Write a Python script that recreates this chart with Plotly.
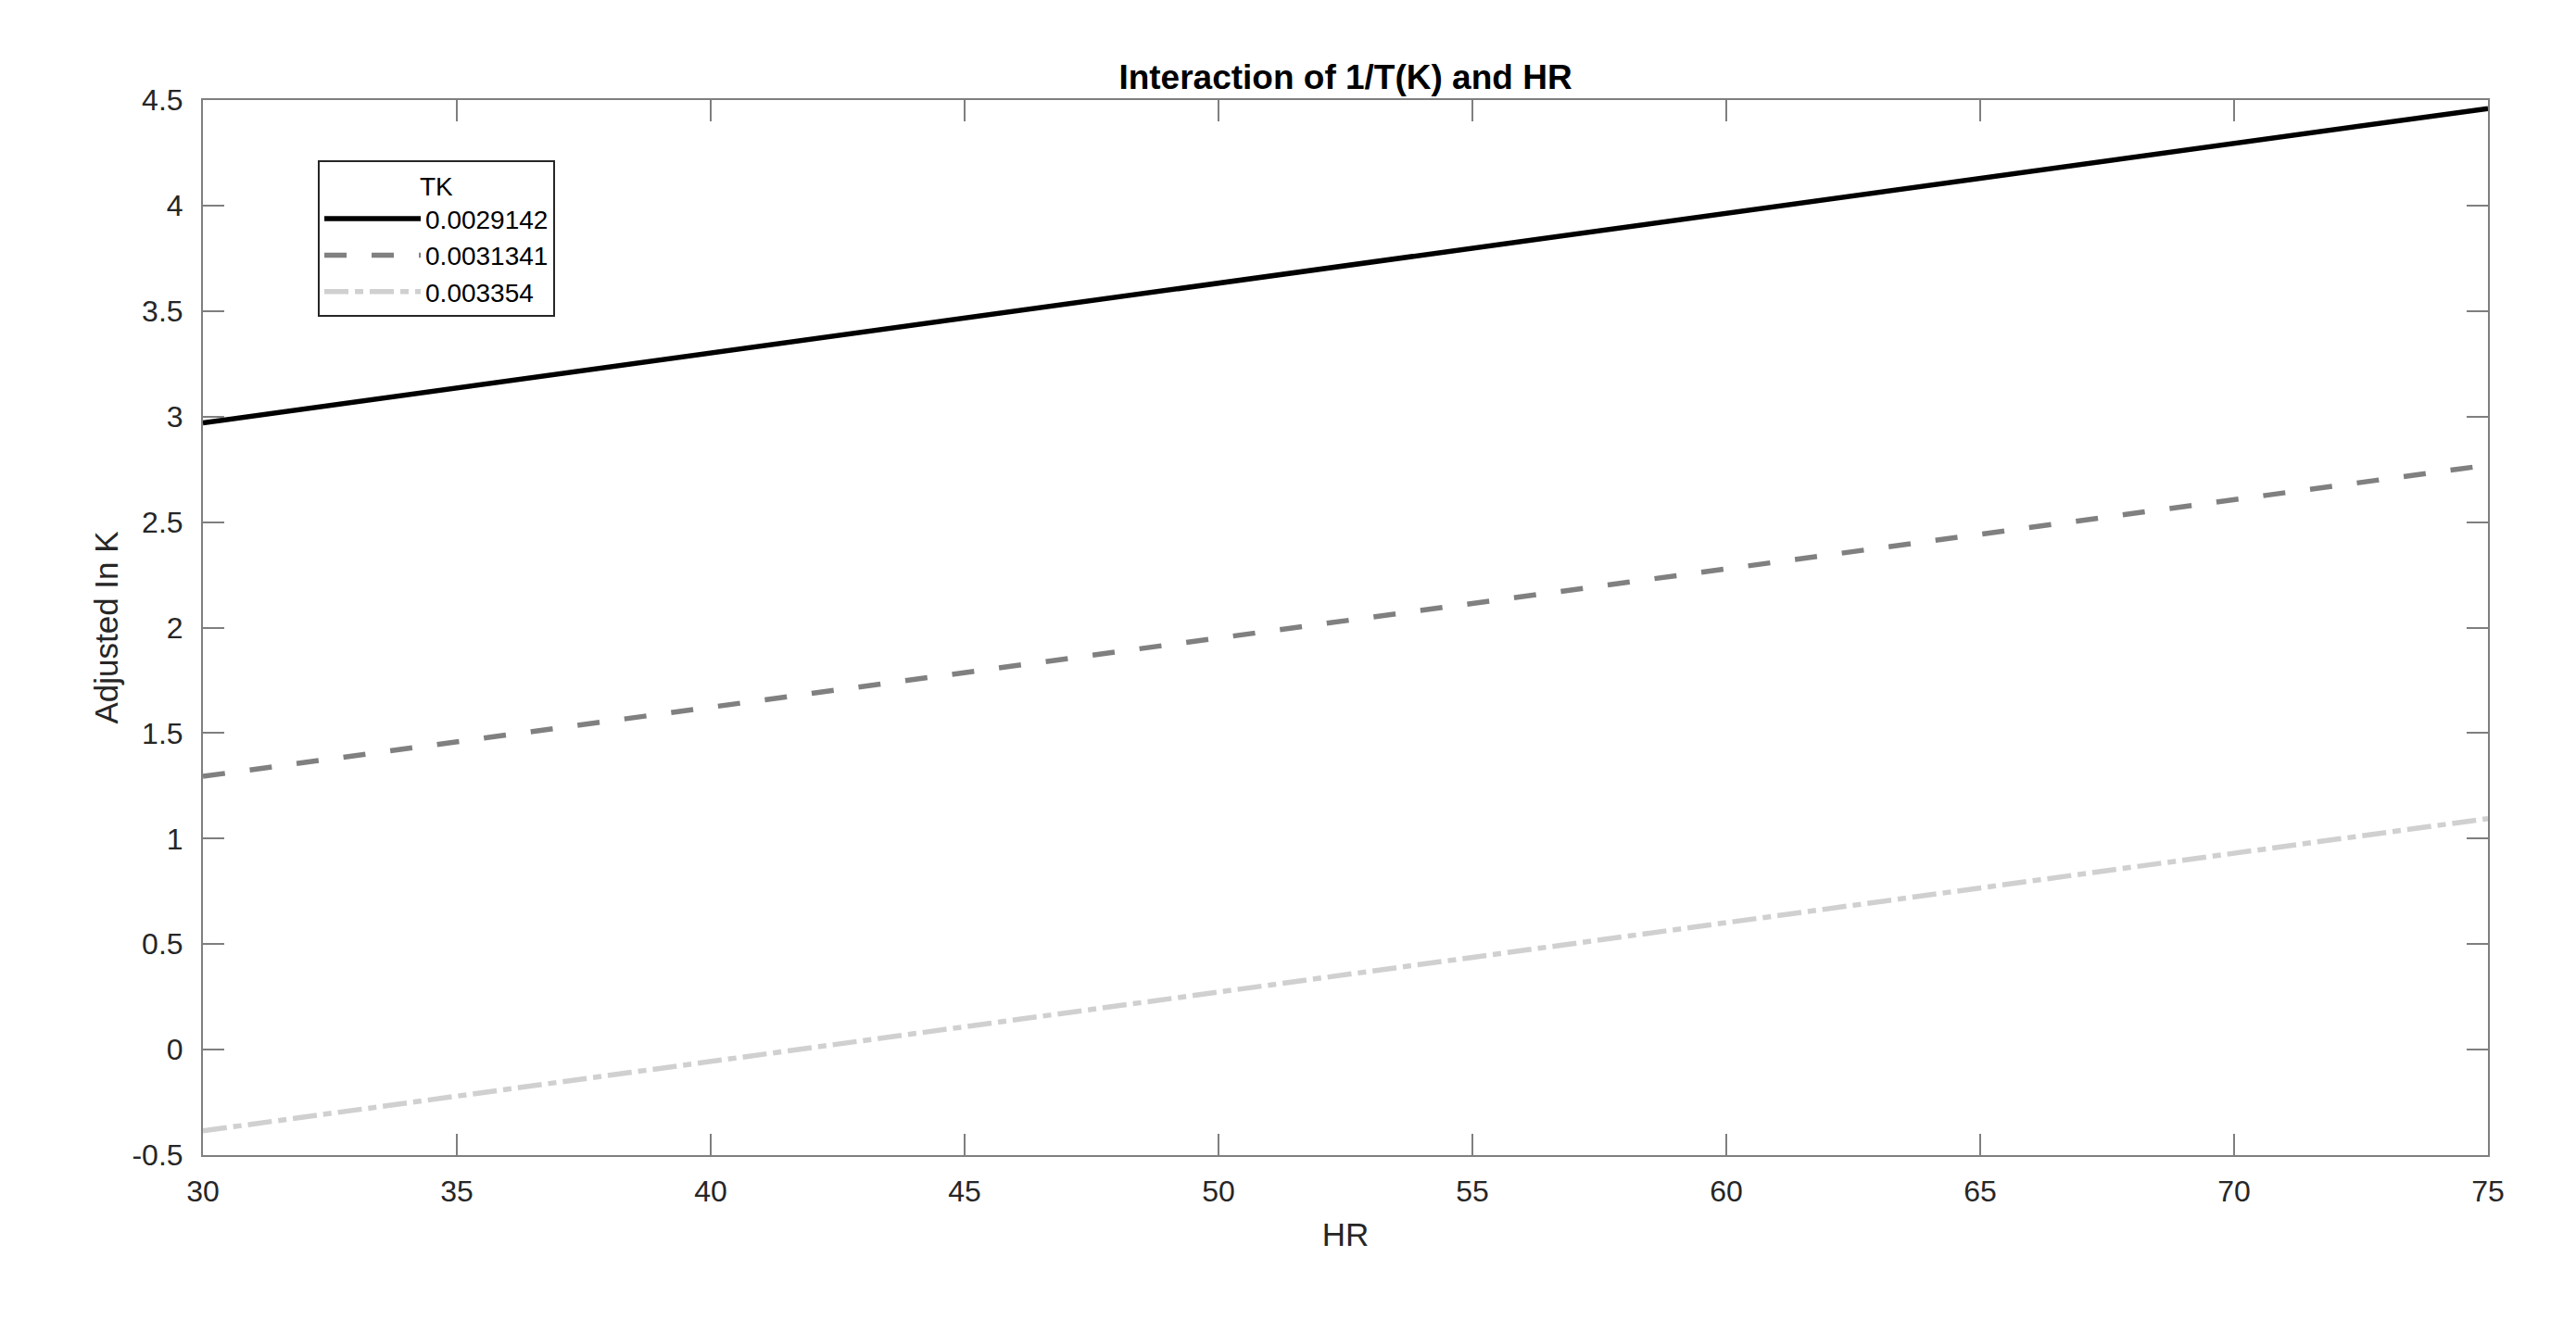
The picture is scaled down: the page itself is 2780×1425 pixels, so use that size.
import plotly.graph_objects as go

# HR endpoints and adjusted ln K (straight lines)
hr = [30, 75]
tk_labels = ["0.0029142", "0.0031341", "0.003354"]
lnk_tk1 = [2.97, 4.46]
lnk_tk2 = [1.295, 2.77]
lnk_tk3 = [-0.385, 1.095]

x_ticks = [30, 35, 40, 45, 50, 55, 60, 65, 70, 75]
y_ticks = [-0.5, 0, 0.5, 1, 1.5, 2, 2.5, 3, 3.5, 4, 4.5]
y_tick_text = ["-0.5", "0", "0.5", "1", "1.5", "2", "2.5", "3", "3.5", "4", "4.5"]

font_family = "Liberation Sans, Arial, sans-serif"
axis_grey = "#7f7f7f"
text_grey = "#262626"

# page body has an 8px margin, so the figure is sized/offset for it
W, H = 2764, 1409

fig = go.Figure()

styles = [
    dict(color="#000000", width=5.5, dash="solid"),
    dict(color="#808080", width=5.5, dash="24px,27px"),
    dict(color="#d0d0d0", width=5.5, dash="26px,7px,9px,7px"),
]
for label, vals, st in zip(tk_labels, [lnk_tk1, lnk_tk2, lnk_tk3], styles):
    fig.add_trace(go.Scatter(x=hr, y=vals, mode="lines", name=label, line=st))

axis_common = dict(
    showline=True,
    linecolor=axis_grey,
    linewidth=2,
    mirror="allticks",
    ticks="inside",
    ticklen=23,
    tickwidth=2,
    tickcolor=axis_grey,
    showgrid=False,
    zeroline=False,
    tickfont=dict(size=32, color=text_grey, family=font_family),
)

fig.update_layout(
    width=W,
    height=H,
    margin=dict(l=211, r=87, t=100, b=170),
    paper_bgcolor="white",
    plot_bgcolor="white",
    font=dict(family=font_family, color=text_grey),
    title=dict(
        text="<b>Interaction of 1/T(K) and HR</b>",
        x=(1452 - 8) / W,
        xanchor="center",
        y=1 - 88 / H,
        yanchor="bottom",
        font=dict(size=37, color="#000000", family=font_family),
    ),
    xaxis=dict(
        axis_common,
        range=[30, 75],
        tickvals=x_ticks,
        ticklabelstandoff=10,
        title=dict(text="HR", font=dict(size=35, color=text_grey), standoff=17),
    ),
    yaxis=dict(
        axis_common,
        range=[-0.5, 4.5],
        tickvals=y_ticks,
        ticktext=y_tick_text,
        ticklabelstandoff=13,
        title=dict(text="Adjusted In K", font=dict(size=35, color=text_grey), standoff=4),
    ),
    legend=dict(
        x=0.0503,
        y=0.943,
        xanchor="left",
        yanchor="top",
        bgcolor="white",
        bordercolor="#262626",
        borderwidth=2,
        font=dict(size=28, color="#000000", family=font_family),
        title=dict(text="TK", side="top center", font=dict(size=28, color="#000000")),
        tracegroupgap=0,
        itemwidth=104,
    ),
)

fig.write_html("out.html")
